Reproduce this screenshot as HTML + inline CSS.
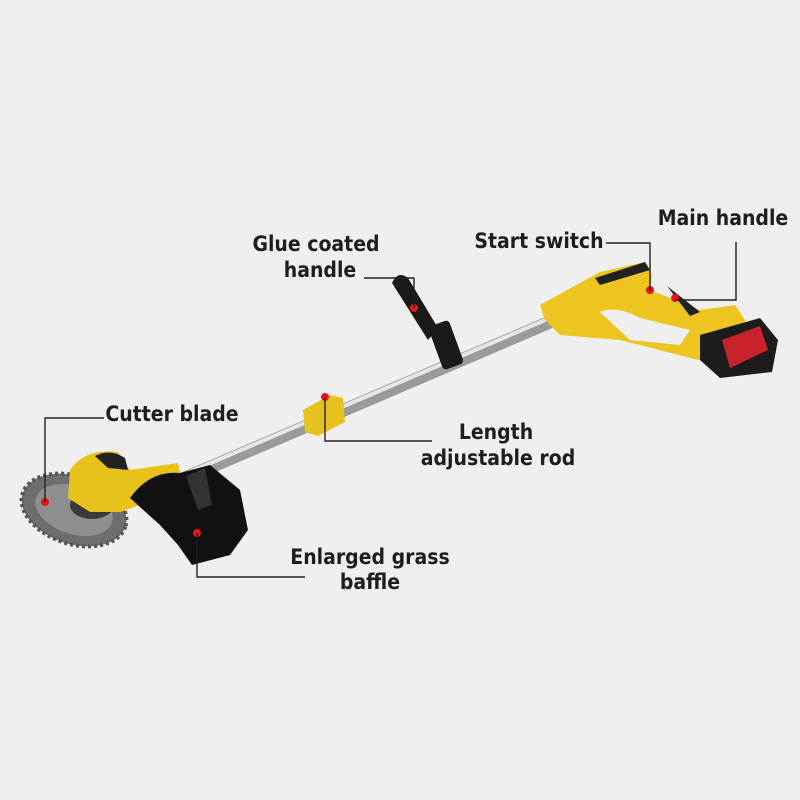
<!DOCTYPE html>
<html><head><meta charset="utf-8"><style>
html,body{margin:0;padding:0;background:#efefef;}
svg{display:block}
text{font-family:"DejaVu Sans Condensed","DejaVu Sans","Liberation Sans",sans-serif;font-weight:bold;font-size:21px;fill:#1e1e1e}
</style></head><body>
<svg width="800" height="800" viewBox="0 0 800 800" xmlns="http://www.w3.org/2000/svg">
<rect width="800" height="800" fill="#efefef"/>
<!-- rod -->
<line x1="185" y1="478" x2="550" y2="322" stroke="#9a9a9a" stroke-width="13" stroke-linecap="round"/>
<line x1="185" y1="474" x2="550" y2="318" stroke="#e6e6e6" stroke-width="4"/>
<!-- length adjuster -->
<polygon points="303,410 330,395 343,398 345,422 318,436 305,432" fill="#e8c21c"/>
<!-- glue handle -->
<path d="M392,283 Q398,270 408,278 L438,328 L428,340 Z" fill="#1a1a1a"/>
<rect x="435" y="322" width="22" height="46" rx="4" fill="#1a1a1a" transform="rotate(-20 446 345)"/>
<!-- main handle -->
<path d="M540,305 L600,272 L645,262 L652,275 L650,290 L700,310 L735,305 L745,320 L745,345 L720,365 L690,358 L640,345 L620,340 L560,335 L545,320 Z" fill="#eec520"/>
<path d="M600,312 Q615,305 640,318 L690,330 L680,345 L630,340 Z" fill="#efefef"/>
<path d="M595,278 L645,262 L650,270 L600,285 Z" fill="#222"/>
<path d="M667,286 L700,312 L690,316 Z" fill="#222"/>
<!-- battery -->
<path d="M700,335 L760,318 L778,340 L772,372 L720,378 L700,360 Z" fill="#1c1c1c"/>
<path d="M722,340 L760,326 L768,350 L730,368 Z" fill="#c8222a"/>
<!-- blade -->
<ellipse cx="74" cy="510" rx="54" ry="34" transform="rotate(18 74 510)" fill="#6e6e6e" stroke="#555" stroke-width="4" stroke-dasharray="3 3"/>
<ellipse cx="74" cy="510" rx="40" ry="24" transform="rotate(18 74 510)" fill="#8e8e8e"/>
<ellipse cx="92" cy="505" rx="22" ry="14" fill="#3a3a3a"/>
<!-- motor head -->
<path d="M70,470 Q85,448 118,452 L130,470 L178,463 L185,492 L140,505 L120,512 L90,512 L68,498 Z" fill="#e8c21c"/>
<path d="M95,456 Q110,448 125,458 L128,470 L108,468 Z" fill="#222"/>
<!-- baffle -->
<path d="M130,498 Q150,470 180,473 L210,465 L240,490 L248,530 L230,555 L192,565 L178,545 L160,525 Z" fill="#111"/>
<path d="M186,476 L205,468 L212,505 L198,510 Z" fill="#333"/>
<!-- dots -->
<g fill="#e8141a">
<circle cx="45" cy="502" r="4"/><circle cx="197" cy="533" r="4"/><circle cx="325" cy="397" r="4"/>
<circle cx="414" cy="308" r="4"/><circle cx="650" cy="290" r="4"/><circle cx="675" cy="298" r="4"/>
</g>
<!-- leader lines -->
<g stroke="#222" stroke-width="1.4" fill="none">
<polyline points="736,242 736,300 675,300"/>
<polyline points="606,243 650,243 650,290"/>
<polyline points="364,278 414,278 414,308"/>
<polyline points="104,418 45,418 45,502"/>
<polyline points="325,397 325,441 432,441"/>
<polyline points="197,533 197,577 305,577"/>
</g>
<!-- labels -->
<text x="723" y="225" text-anchor="middle">Main handle</text>
<text x="539" y="248" text-anchor="middle">Start switch</text>
<text x="316" y="251" text-anchor="middle">Glue coated</text>
<text x="320" y="277" text-anchor="middle">handle</text>
<text x="172" y="421" text-anchor="middle">Cutter blade</text>
<text x="496" y="439" text-anchor="middle">Length</text>
<text x="498" y="465" text-anchor="middle">adjustable rod</text>
<text x="370" y="564" text-anchor="middle">Enlarged grass</text>
<text x="370" y="589" text-anchor="middle">baffle</text>
</svg>
</body></html>
